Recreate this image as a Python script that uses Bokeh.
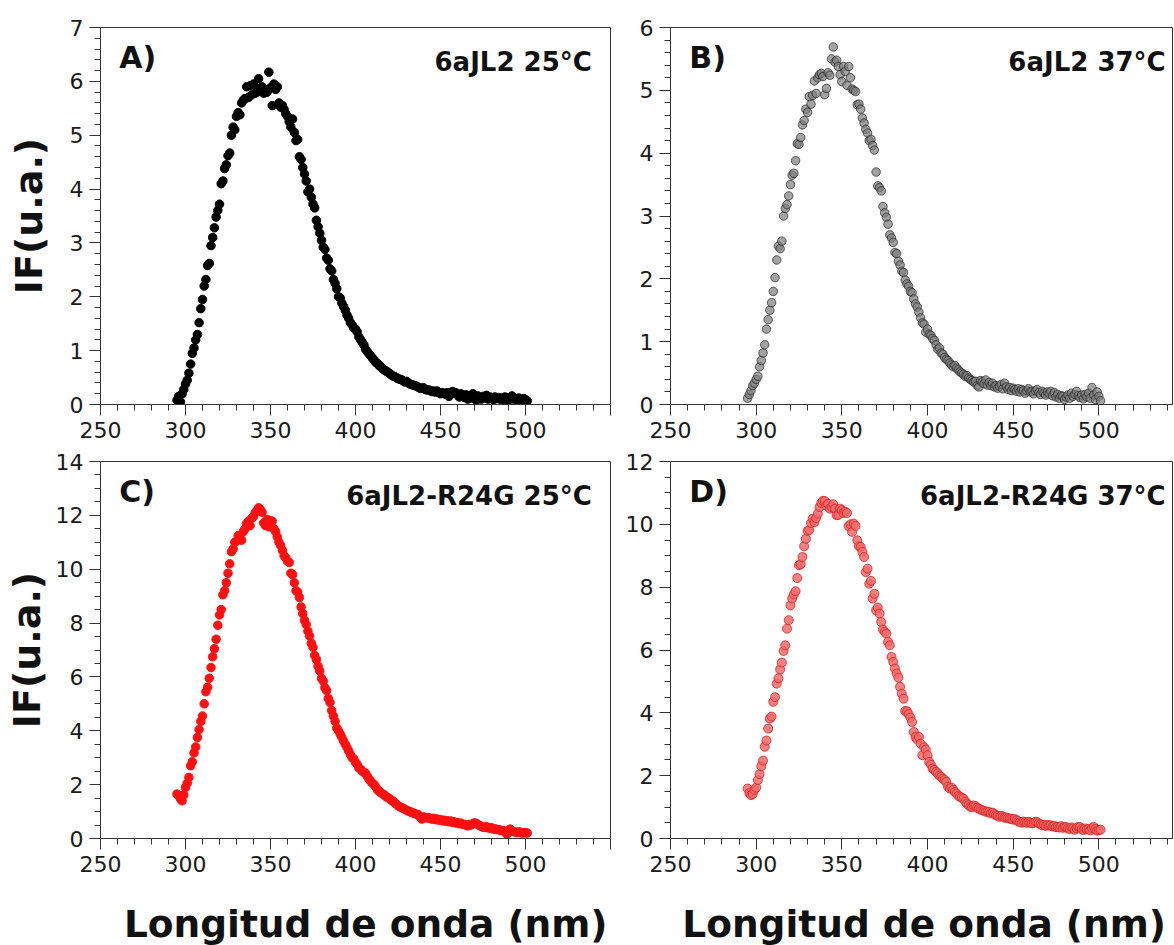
from bokeh.plotting import figure
from bokeh.layouts import gridplot
from bokeh.models import Range1d, FixedTicker, Label
from bokeh.embed import file_html
from bokeh.resources import INLINE

# ---------------- data ----------------
WL_START = 295  # first wavelength (nm), 1 nm step

if_6ajl2_25 = [
    0.08, 0.15, 0.05, 0.20, 0.28, 0.38, 0.45, 0.58, 0.75, 0.95,
    1.05, 1.20, 1.30, 1.52, 1.78, 1.95, 2.20, 2.32, 2.58, 2.62,
    2.95, 3.10, 3.28, 3.48, 3.60, 3.72, 4.10, 4.15, 4.38, 4.45,
    4.62, 4.67, 5.00, 5.15, 5.10, 5.35, 5.42, 5.38, 5.60, 5.65,
    5.68, 5.90, 5.70, 5.92, 5.75, 5.95, 5.78, 5.80, 6.05, 5.85,
    5.90, 5.78, 5.85, 5.80, 6.17, 5.88, 5.55, 5.95, 5.85, 5.90,
    5.60, 5.52, 5.55, 5.48, 5.40, 5.35, 5.25, 5.15, 5.30, 5.05,
    4.90, 4.92, 4.60, 4.55, 4.40, 4.28, 4.15, 3.95, 4.00, 3.85,
    3.72, 3.65, 3.42, 3.30, 3.18, 3.05, 2.92, 2.88, 2.72, 2.68,
    2.52, 2.48, 2.32, 2.25, 2.15, 2.00, 1.98, 1.88, 1.82, 1.75,
    1.66, 1.60, 1.52, 1.48, 1.42, 1.40, 1.35, 1.25, 1.20, 1.15,
    1.10, 1.02, 0.98, 0.94, 0.90, 0.86, 0.82, 0.78, 0.76, 0.72,
    0.70, 0.66, 0.64, 0.62, 0.60, 0.58, 0.55, 0.53, 0.52, 0.50,
    0.48, 0.47, 0.46, 0.44, 0.42, 0.43, 0.40, 0.38, 0.37, 0.36,
    0.35, 0.34, 0.32, 0.30, 0.30, 0.31, 0.28, 0.27, 0.27, 0.26,
    0.24, 0.25, 0.23, 0.25, 0.22, 0.20, 0.22, 0.21, 0.19, 0.22,
    0.15, 0.20, 0.24, 0.21, 0.22, 0.18, 0.14, 0.20, 0.15, 0.13,
    0.18, 0.10, 0.16, 0.12, 0.20, 0.14, 0.08, 0.16, 0.12, 0.10,
    0.15, 0.12, 0.17, 0.10, 0.14, 0.12, 0.09, 0.14, 0.11, 0.13,
    0.10, 0.12, 0.09, 0.14, 0.11, 0.08, 0.12, 0.16, 0.10, 0.11,
    0.09, 0.12, 0.10, 0.08, 0.11, 0.09, 0.07,
]

if_6ajl2_37 = [
    0.10, 0.16, 0.22, 0.30, 0.34, 0.40, 0.45, 0.60, 0.70, 0.82,
    0.95, 1.20, 1.35, 1.50, 1.62, 1.80, 2.02, 2.30, 2.52, 2.48,
    2.60, 3.00, 3.12, 3.18, 3.32, 3.50, 3.65, 3.68, 3.88, 4.15,
    4.14, 4.25, 4.45, 4.52, 4.70, 4.65, 4.90, 4.78, 4.92, 5.15,
    4.95, 5.20, 5.25, 5.27, 5.22, 4.93, 5.03, 5.28, 5.24, 5.50,
    5.69, 5.45, 5.48, 5.38, 5.25, 5.14, 5.38, 5.30, 5.08, 5.38,
    5.20, 5.02, 5.00, 4.98, 4.77, 4.78, 4.70, 4.56, 4.48, 4.38,
    4.32, 4.20, 4.22, 4.12, 4.05, 3.70, 3.48, 3.45, 3.40, 3.15,
    3.05, 2.98, 2.87, 2.70, 2.65, 2.58, 2.42, 2.40, 2.28, 2.22,
    2.12, 2.10, 1.98, 1.92, 1.88, 1.80, 1.78, 1.68, 1.60, 1.55,
    1.47, 1.38, 1.30, 1.28, 1.15, 1.20, 1.12, 1.10, 1.05, 1.02,
    0.95, 0.88, 0.90, 0.82, 0.80, 0.75, 0.72, 0.70, 0.66, 0.63,
    0.60, 0.62, 0.58, 0.55, 0.52, 0.50, 0.48, 0.45, 0.46, 0.42,
    0.40, 0.38, 0.36, 0.37, 0.30, 0.28, 0.38, 0.36, 0.33, 0.39,
    0.31, 0.35, 0.30, 0.34, 0.28, 0.30, 0.26, 0.29, 0.32, 0.25,
    0.34, 0.28, 0.24, 0.27, 0.22, 0.26, 0.24, 0.21, 0.25, 0.20,
    0.24, 0.22, 0.18, 0.22, 0.25, 0.20, 0.21, 0.17, 0.22, 0.24,
    0.19, 0.16, 0.21, 0.18, 0.15, 0.20, 0.17, 0.21, 0.14, 0.19,
    0.12, 0.16, 0.10, 0.14, 0.13, 0.08, 0.12, 0.15, 0.10, 0.18,
    0.13, 0.16, 0.21, 0.14, 0.11, 0.15, 0.09, 0.16, 0.12, 0.18,
    0.10, 0.27, 0.15, 0.08, 0.20, 0.13, 0.06,
]

if_r24g_25 = [
    1.65, 1.58, 1.48, 1.40, 1.62, 1.90, 2.05, 2.27, 2.70, 2.85,
    3.18, 3.40, 3.75, 4.05, 4.35, 4.55, 5.00, 5.45, 5.62, 5.95,
    6.35, 6.75, 7.05, 7.40, 7.92, 8.30, 8.50, 9.05, 9.20, 9.50,
    9.85, 10.20, 10.65, 10.75, 11.00, 11.05, 11.25, 11.20, 11.08, 11.40,
    11.50, 11.70, 11.78, 11.62, 11.90, 11.95, 12.10, 12.18, 12.28, 12.22,
    12.12, 11.72, 11.62, 11.85, 11.58, 11.80, 11.78, 11.50, 11.40, 11.20,
    11.00, 10.88, 10.70, 10.50, 10.42, 10.30, 10.25, 9.85, 9.80, 9.50,
    9.20, 9.15, 8.95, 8.60, 8.35, 8.10, 7.95, 7.70, 7.52, 7.25,
    7.10, 6.80, 6.65, 6.40, 6.22, 5.95, 5.85, 5.60, 5.50, 5.20,
    5.05, 4.75, 4.55, 4.35, 4.10, 4.00, 3.88, 3.75, 3.62, 3.50,
    3.38, 3.25, 3.12, 3.00, 2.95, 2.83, 2.75, 2.62, 2.58, 2.50,
    2.45, 2.42, 2.30, 2.20, 2.12, 2.05, 2.00, 1.90, 1.80, 1.75,
    1.70, 1.65, 1.62, 1.55, 1.52, 1.48, 1.42, 1.40, 1.32, 1.28,
    1.22, 1.18, 1.15, 1.12, 1.09, 1.05, 1.02, 1.00, 0.97, 0.95,
    0.92, 0.90, 0.88, 0.80, 0.72, 0.80, 0.78, 0.76, 0.78, 0.74,
    0.72, 0.75, 0.70, 0.72, 0.68, 0.70, 0.66, 0.68, 0.64, 0.66,
    0.62, 0.65, 0.60, 0.62, 0.58, 0.59, 0.55, 0.57, 0.53, 0.52,
    0.50, 0.47, 0.52, 0.50, 0.55, 0.58, 0.56, 0.52, 0.48, 0.45,
    0.42, 0.41, 0.44, 0.40, 0.38, 0.40, 0.35, 0.36, 0.34, 0.33,
    0.31, 0.30, 0.29, 0.25, 0.16, 0.30, 0.35, 0.28, 0.26, 0.24,
    0.22, 0.25, 0.23, 0.20, 0.21, 0.22, 0.20,
]

if_r24g_37 = [
    1.59, 1.45, 1.38, 1.42, 1.55, 1.62, 1.86, 2.05, 2.30, 2.48,
    2.92, 3.12, 3.50, 3.82, 3.88, 4.35, 4.50, 4.93, 5.10, 5.38,
    5.60, 5.97, 6.15, 6.68, 6.95, 7.42, 7.64, 7.77, 7.87, 8.29,
    8.70, 8.73, 8.96, 9.30, 9.54, 9.79, 9.82, 10.04, 10.18, 10.07,
    10.20, 10.34, 10.55, 10.68, 10.75, 10.74, 10.60, 10.65, 10.50, 10.55,
    10.64, 10.50, 10.29, 10.30, 10.50, 10.45, 10.36, 10.40, 10.36, 9.94,
    10.00, 9.76, 10.02, 9.95, 9.49, 9.30, 9.28, 9.12, 8.96, 8.48,
    8.59, 8.11, 8.20, 7.64, 7.79, 7.26, 7.35, 7.16, 6.89, 6.65,
    6.58, 6.52, 6.26, 6.15, 5.78, 5.62, 5.41, 5.25, 5.12, 4.83,
    4.61, 4.45, 4.06, 4.05, 3.96, 3.85, 3.71, 3.39, 3.23, 3.15,
    3.23, 3.02, 2.65, 2.90, 2.83, 2.65, 2.44, 2.35, 2.23, 2.18,
    2.12, 2.07, 2.00, 1.96, 1.90, 1.86, 1.80, 1.65, 1.59, 1.62,
    1.55, 1.48, 1.43, 1.36, 1.33, 1.30, 1.27, 1.18, 1.11, 1.06,
    1.01, 1.00, 1.05, 1.03, 0.98, 0.95, 0.92, 0.90, 0.88, 0.85,
    0.86, 0.84, 0.80, 0.82, 0.78, 0.74, 0.72, 0.69, 0.72, 0.70,
    0.66, 0.67, 0.65, 0.63, 0.62, 0.60, 0.62, 0.58, 0.55, 0.52,
    0.50, 0.54, 0.52, 0.50, 0.53, 0.51, 0.48, 0.50, 0.53, 0.52,
    0.48, 0.45, 0.42, 0.44, 0.40, 0.43, 0.41, 0.42, 0.38, 0.40,
    0.36, 0.37, 0.35, 0.39, 0.34, 0.37, 0.36, 0.32, 0.30, 0.35,
    0.32, 0.28, 0.33, 0.37, 0.36, 0.30, 0.27, 0.32, 0.29, 0.30,
    0.26, 0.33, 0.37, 0.30, 0.25, 0.27, 0.28,
]

panel_tags = ["A)", "B)", "C)", "D)"]
panel_titles = ["6aJL2 25°C", "6aJL2 37°C", "6aJL2-R24G 25°C", "6aJL2-R24G 37°C"]
x_tick_values = [250, 300, 350, 400, 450, 500]
y_label = "IF(u.a.)"
x_label = "Longitud de onda (nm)"

FONT = "DejaVu Sans"
AX = "#333333"
TXT = "#1a1a1a"


def panel(yvals, ymax, ystep, yminor, xend, style, size, tag, title,
          width, height, bl, br, bt, bb, show_ylabel, ylab_standoff):
    p = figure(width=width, height=height, output_backend="svg",
               toolbar_location=None, x_range=Range1d(250, xend),
               y_range=Range1d(0, ymax), min_border_left=bl,
               min_border_right=br, min_border_top=bt, min_border_bottom=bb)
    p.grid.visible = False
    p.outline_line_color = AX
    p.outline_line_width = 1
    p.background_fill_color = "white"
    p.border_fill_color = "white"

    xs = [WL_START + i for i in range(len(yvals))]
    p.scatter(xs, yvals, size=size, **style)

    xt = [v for v in x_tick_values] + ([550] if xend >= 550 else [])
    xminor = [v for v in range(250, int(xend) + 1, 10)]
    p.xaxis.ticker = FixedTicker(ticks=xt, minor_ticks=xminor)
    p.xaxis.major_label_overrides = {550: ""}
    nmaj = int(round(ymax / ystep))
    yt = [i * ystep for i in range(nmaj + 1)]
    nmin = int(round(ymax / yminor))
    ym = [round(i * yminor, 3) for i in range(nmin + 1)]
    p.yaxis.ticker = FixedTicker(ticks=yt, minor_ticks=ym)

    for ax in (p.xaxis[0], p.yaxis[0]):
        ax.axis_line_color = AX
        ax.major_tick_line_color = AX
        ax.minor_tick_line_color = AX
        ax.major_tick_out = 11
        ax.major_tick_in = 0
        ax.minor_tick_out = 6
        ax.minor_tick_in = 0
        ax.major_label_text_font = FONT
        ax.major_label_text_font_size = "22px"
        ax.major_label_text_color = TXT
        ax.major_label_standoff = 6
        ax.axis_label_text_font = FONT
        ax.axis_label_text_font_style = "bold"
        ax.axis_label_text_color = "#111111"

    if show_ylabel:
        p.yaxis.axis_label = y_label
        p.yaxis.axis_label_text_font_size = "38px"
        p.yaxis.axis_label_standoff = ylab_standoff

    p.add_layout(Label(x=261, y=ymax * 0.921, text=tag, text_font=FONT,
                       text_font_style="bold", text_font_size="30px",
                       text_color="#111111", text_baseline="middle"))
    p.add_layout(Label(x=539, y=ymax * 0.908, text=title, text_font=FONT,
                       text_font_style="bold", text_font_size="26px",
                       text_color="#111111", text_baseline="middle",
                       text_align="right"))
    return p


def label_strip(width, bl, br, xend, xpos):
    # text-only strip carrying the shared x-axis title under a column
    s = figure(width=width, height=57, output_backend="svg", toolbar_location=None,
               x_range=Range1d(250, xend), y_range=Range1d(0, 1),
               x_axis_type=None, y_axis_type=None,
               min_border_left=bl, min_border_right=br,
               min_border_top=0, min_border_bottom=0)
    s.grid.visible = False
    s.outline_line_color = None
    s.add_layout(Label(x=xpos, y=0.37, text=x_label, text_font=FONT,
                       text_font_style="bold", text_font_size="37.5px",
                       text_color="#111111", text_baseline="middle",
                       text_align="center"))
    return s


st_a = dict(fill_color="black", line_color="black")
st_b = dict(fill_color="#808080", fill_alpha=0.72, line_color="#222222", line_alpha=0.7)
st_c = dict(fill_color="#ff1010", line_color="#ff1010")
st_d = dict(fill_color="#f26b6b", fill_alpha=0.85, line_color="#e02020", line_alpha=0.8)

pa = panel(if_6ajl2_25, 7, 1, 0.2, 550, st_a, 8.5, panel_tags[0], panel_titles[0],
           620, 450, 98, 10, 27, 46, True, 16)
pb = panel(if_6ajl2_37, 6, 1, 0.2, 543, st_b, 8.5, panel_tags[1], panel_titles[1],
           554, 450, 50, 2, 27, 46, False, 0)
pc = panel(if_r24g_25, 14, 2, 0.5, 550, st_c, 8.5, panel_tags[2], panel_titles[2],
           620, 438, 100, 8, 11, 50, True, 4)
pd = panel(if_r24g_37, 12, 2, 0.5, 543, st_d, 9, panel_tags[3], panel_titles[3],
           554, 438, 50, 2, 11, 50, False, 0)
sc = label_strip(620, 100, 8, 550, 406)
sd = label_strip(554, 50, 2, 543, 398)

grid = gridplot([[pa, pb], [pc, pd], [sc, sd]], toolbar_location=None)

open("out.html", "w").write(file_html(grid, INLINE))
